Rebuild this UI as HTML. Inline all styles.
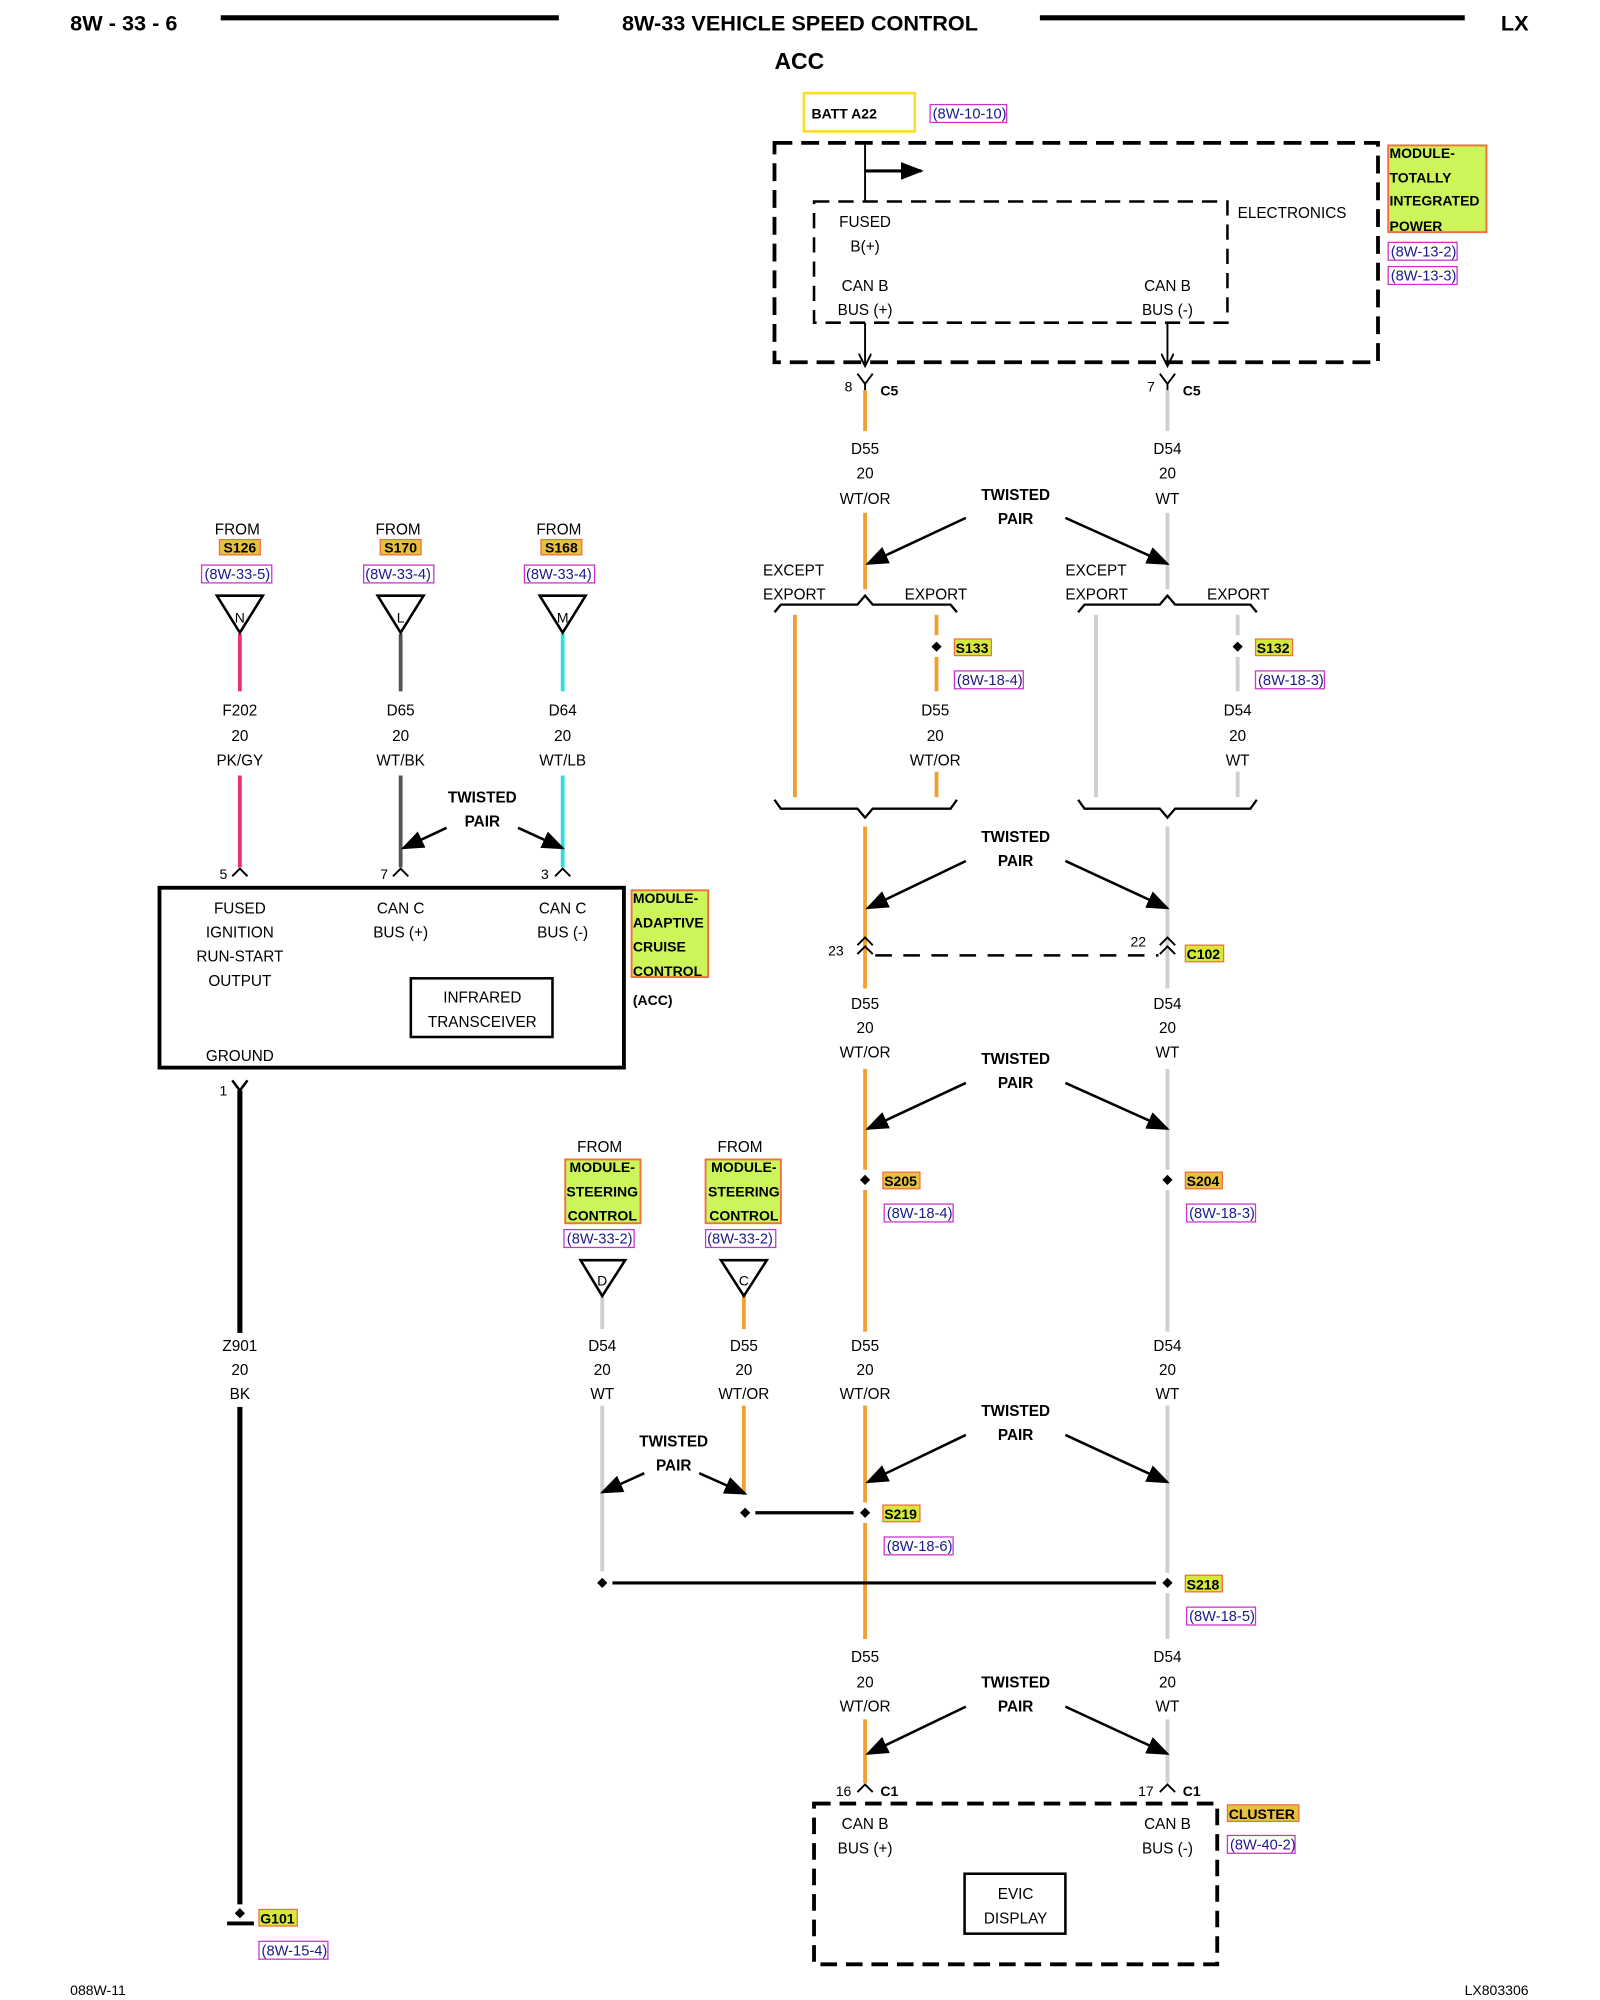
<!DOCTYPE html>
<html><head><meta charset="utf-8"><style>
html,body{margin:0;padding:0;background:#fff;}
svg{display:block;}
text{font-family:"Liberation Sans",Arial,sans-serif;font-size:12px;fill:#000;}
.c{text-anchor:middle;}
.b{font-weight:bold;}
.r{fill:#1a1a8a;font-size:11.5px;}
.k{stroke:#000;fill:none;}
</style></head><body>
<svg width="1600" height="2000" viewBox="0 0 1254 1568" preserveAspectRatio="none" xmlns="http://www.w3.org/2000/svg">
<defs>
<marker id="ah" markerWidth="18" markerHeight="14" refX="16" refY="7" orient="auto" markerUnits="userSpaceOnUse">
<path d="M0,0 L18,7 L0,14 z" fill="#000"/></marker>
<marker id="ad" markerWidth="12" markerHeight="10" refX="10" refY="5" orient="auto" markerUnits="userSpaceOnUse">
<path d="M0,0 L10,5 L0,10" fill="none" stroke="#000" stroke-width="1.5"/></marker>
</defs>

<!-- header -->
<text x="55" y="24" class="b" style="font-size:17px">8W - 33 - 6</text>
<line x1="173" y1="14" x2="438" y2="14" stroke="#000" stroke-width="4"/>
<text x="627" y="24" class="b c" style="font-size:17px">8W-33 VEHICLE SPEED CONTROL</text>
<line x1="815" y1="14" x2="1148" y2="14" stroke="#000" stroke-width="4"/>
<text x="1198" y="24" class="b" style="font-size:17px;text-anchor:end">LX</text>
<text x="607" y="54" class="b" style="font-size:18px">ACC</text>

<!-- BATT -->
<rect x="630" y="73" width="87" height="30" fill="none" stroke="#ffdd22" stroke-width="2"/>
<text x="636" y="93" class="b" style="font-size:11px">BATT A22</text>
<rect x="729" y="82" width="60" height="14" fill="none" stroke="#cc33cc"/>
<text x="731" y="93" class="r">(8W-10-10)</text>

<!-- TIPM -->
<rect x="607" y="112" width="473" height="172" fill="none" stroke="#000" stroke-width="3" stroke-dasharray="14,7"/>
<line x1="678" y1="112" x2="678" y2="158" stroke="#000" stroke-width="1.5"/>
<line x1="678" y1="134" x2="722" y2="134" stroke="#000" stroke-width="2.5" marker-end="url(#ah)"/>
<rect x="638" y="158" width="324" height="95" fill="none" stroke="#000" stroke-width="2" stroke-dasharray="12,7"/>
<text x="678" y="178" class="c">FUSED</text>
<text x="678" y="197" class="c">B(+)</text>
<text x="678" y="228" class="c">CAN B</text>
<text x="678" y="247" class="c">BUS (+)</text>
<text x="915" y="228" class="c">CAN B</text>
<text x="915" y="247" class="c">BUS (-)</text>
<text x="970" y="171">ELECTRONICS</text>
<line x1="678" y1="253" x2="678" y2="287" stroke="#000" stroke-width="1.5" marker-end="url(#ad)"/>
<line x1="915" y1="253" x2="915" y2="287" stroke="#000" stroke-width="1.5" marker-end="url(#ad)"/>
<rect x="1088" y="114" width="77" height="68" fill="#ccf55a" stroke="#f07040" stroke-width="1.5"/>
<text x="1089" y="124" class="b" style="font-size:11px">MODULE-</text>
<text x="1089" y="143" class="b" style="font-size:11px">TOTALLY</text>
<text x="1089" y="161" class="b" style="font-size:11px">INTEGRATED</text>
<text x="1089" y="181" class="b" style="font-size:11px">POWER</text>
<rect x="1088" y="190" width="54" height="14" fill="none" stroke="#cc33cc"/>
<text x="1090" y="201" class="r">(8W-13-2)</text>
<rect x="1088" y="209" width="54" height="14" fill="none" stroke="#cc33cc"/>
<text x="1090" y="220" class="r">(8W-13-3)</text>

<!-- C5 connectors -->
<path d="M672,293 L678,301 L684,293 M678,301 L678,306" class="k" stroke-width="1.5"/>
<path d="M909,293 L915,301 L921,293 M915,301 L915,306" class="k" stroke-width="1.5"/>
<text x="662" y="307" style="font-size:11px">8</text>
<text x="690" y="310" class="b" style="font-size:11px">C5</text>
<text x="899" y="307" style="font-size:11px">7</text>
<text x="927" y="310" class="b" style="font-size:11px">C5</text>

<!-- right wires -->
<g stroke-width="3" fill="none">
<g stroke="#f0a030">
<line x1="678" y1="306" x2="678" y2="338"/>
<line x1="678" y1="402" x2="678" y2="462"/>
<line x1="623" y1="482" x2="623" y2="625"/>
<line x1="734" y1="482" x2="734" y2="498"/>
<line x1="734" y1="515" x2="734" y2="542"/>
<line x1="734" y1="605" x2="734" y2="625"/>
<line x1="678" y1="648" x2="678" y2="775"/>
<line x1="678" y1="838" x2="678" y2="917"/>
<line x1="678" y1="933" x2="678" y2="1044"/>
<line x1="678" y1="1102" x2="678" y2="1178"/>
<line x1="678" y1="1194" x2="678" y2="1285"/>
<line x1="678" y1="1348" x2="678" y2="1398"/>
<line x1="583" y1="1015" x2="583" y2="1042"/>
<line x1="583" y1="1102" x2="583" y2="1172"/>
</g>
<g stroke="#cfcfcf">
<line x1="915" y1="306" x2="915" y2="338"/>
<line x1="915" y1="402" x2="915" y2="462"/>
<line x1="859" y1="482" x2="859" y2="625"/>
<line x1="970" y1="482" x2="970" y2="498"/>
<line x1="970" y1="515" x2="970" y2="542"/>
<line x1="970" y1="605" x2="970" y2="625"/>
<line x1="915" y1="648" x2="915" y2="775"/>
<line x1="915" y1="838" x2="915" y2="917"/>
<line x1="915" y1="933" x2="915" y2="1044"/>
<line x1="915" y1="1102" x2="915" y2="1233"/>
<line x1="915" y1="1249" x2="915" y2="1285"/>
<line x1="915" y1="1348" x2="915" y2="1398"/>
<line x1="472" y1="1015" x2="472" y2="1042"/>
<line x1="472" y1="1102" x2="472" y2="1232"/>
</g>
<line x1="188" y1="497" x2="188" y2="542" stroke="#ee3366"/>
<line x1="188" y1="608" x2="188" y2="680" stroke="#ee3366"/>
<line x1="314" y1="497" x2="314" y2="542" stroke="#555"/>
<line x1="314" y1="608" x2="314" y2="680" stroke="#555"/>
<line x1="441" y1="497" x2="441" y2="542" stroke="#33dddd"/>
<line x1="441" y1="608" x2="441" y2="680" stroke="#33dddd"/>
</g>

<!-- wire labels -->
<g class="c">
<text x="678" y="356" class="c">D55</text><text x="678" y="375" class="c">20</text><text x="678" y="395" class="c">WT/OR</text>
<text x="915" y="356" class="c">D54</text><text x="915" y="375" class="c">20</text><text x="915" y="395" class="c">WT</text>
<text x="733" y="561" class="c">D55</text><text x="733" y="581" class="c">20</text><text x="733" y="600" class="c">WT/OR</text>
<text x="970" y="561" class="c">D54</text><text x="970" y="581" class="c">20</text><text x="970" y="600" class="c">WT</text>
<text x="678" y="791" class="c">D55</text><text x="678" y="810" class="c">20</text><text x="678" y="829" class="c">WT/OR</text>
<text x="915" y="791" class="c">D54</text><text x="915" y="810" class="c">20</text><text x="915" y="829" class="c">WT</text>
<text x="678" y="1059" class="c">D55</text><text x="678" y="1078" class="c">20</text><text x="678" y="1097" class="c">WT/OR</text>
<text x="915" y="1059" class="c">D54</text><text x="915" y="1078" class="c">20</text><text x="915" y="1097" class="c">WT</text>
<text x="472" y="1059" class="c">D54</text><text x="472" y="1078" class="c">20</text><text x="472" y="1097" class="c">WT</text>
<text x="583" y="1059" class="c">D55</text><text x="583" y="1078" class="c">20</text><text x="583" y="1097" class="c">WT/OR</text>
<text x="678" y="1303" class="c">D55</text><text x="678" y="1323" class="c">20</text><text x="678" y="1342" class="c">WT/OR</text>
<text x="915" y="1303" class="c">D54</text><text x="915" y="1323" class="c">20</text><text x="915" y="1342" class="c">WT</text>
<text x="188" y="561" class="c">F202</text><text x="188" y="581" class="c">20</text><text x="188" y="600" class="c">PK/GY</text>
<text x="314" y="561" class="c">D65</text><text x="314" y="581" class="c">20</text><text x="314" y="600" class="c">WT/BK</text>
<text x="441" y="561" class="c">D64</text><text x="441" y="581" class="c">20</text><text x="441" y="600" class="c">WT/LB</text>
<text x="188" y="1059" class="c">Z901</text><text x="188" y="1078" class="c">20</text><text x="188" y="1097" class="c">BK</text>
</g>

<!-- twisted pairs -->
<g class="k" stroke-width="2">
<line x1="757" y1="406" x2="680" y2="442" marker-end="url(#ah)"/>
<line x1="835" y1="406" x2="915" y2="442" marker-end="url(#ah)"/>
<line x1="757" y1="675" x2="680" y2="712" marker-end="url(#ah)"/>
<line x1="835" y1="675" x2="915" y2="712" marker-end="url(#ah)"/>
<line x1="757" y1="849" x2="680" y2="885" marker-end="url(#ah)"/>
<line x1="835" y1="849" x2="915" y2="885" marker-end="url(#ah)"/>
<line x1="757" y1="1125" x2="680" y2="1162" marker-end="url(#ah)"/>
<line x1="835" y1="1125" x2="915" y2="1162" marker-end="url(#ah)"/>
<line x1="757" y1="1338" x2="680" y2="1375" marker-end="url(#ah)"/>
<line x1="835" y1="1338" x2="915" y2="1375" marker-end="url(#ah)"/>
<line x1="350" y1="649" x2="316" y2="665" marker-end="url(#ah)"/>
<line x1="406" y1="649" x2="441" y2="665" marker-end="url(#ah)"/>
<line x1="505" y1="1155" x2="472" y2="1170" marker-end="url(#ah)"/>
<line x1="548" y1="1155" x2="584" y2="1171" marker-end="url(#ah)"/>
</g>
<g class="b" style="font-size:11.5px">
<text x="796" y="392" class="b c">TWISTED</text><text x="796" y="411" class="b c">PAIR</text>
<text x="796" y="660" class="b c">TWISTED</text><text x="796" y="679" class="b c">PAIR</text>
<text x="796" y="834" class="b c">TWISTED</text><text x="796" y="853" class="b c">PAIR</text>
<text x="796" y="1110" class="b c">TWISTED</text><text x="796" y="1129" class="b c">PAIR</text>
<text x="796" y="1323" class="b c">TWISTED</text><text x="796" y="1342" class="b c">PAIR</text>
<text x="378" y="629" class="b c">TWISTED</text><text x="378" y="648" class="b c">PAIR</text>
<text x="528" y="1134" class="b c">TWISTED</text><text x="528" y="1153" class="b c">PAIR</text>
</g>

<!-- except export braces -->
<text x="598" y="451">EXCEPT</text><text x="598" y="470">EXPORT</text><text x="709" y="470">EXPORT</text>
<text x="835" y="451">EXCEPT</text><text x="835" y="470">EXPORT</text><text x="946" y="470">EXPORT</text>
<g class="k" stroke-width="1.8">
<path d="M607,480 L612,474 L672,474 L678,467 L684,474 L745,474 L750,480"/>
<path d="M607,627 L612,634 L672,634 L678,641 L684,634 L745,634 L750,627"/>
<path d="M845,480 L850,474 L909,474 L915,467 L921,474 L980,474 L985,480"/>
<path d="M845,627 L850,634 L909,634 L915,641 L921,634 L980,634 L985,627"/>
</g>

<!-- splices -->
<g fill="#000">
<path d="M734,503 l4,4 l-4,4 l-4,-4z"/>
<path d="M970,503 l4,4 l-4,4 l-4,-4z"/>
<path d="M678,921 l4,4 l-4,4 l-4,-4z"/>
<path d="M915,921 l4,4 l-4,4 l-4,-4z"/>
<path d="M678,1182 l4,4 l-4,4 l-4,-4z"/>
<path d="M584,1182 l4,4 l-4,4 l-4,-4z"/>
<path d="M915,1237 l4,4 l-4,4 l-4,-4z"/>
<path d="M472,1237 l4,4 l-4,4 l-4,-4z"/>
<path d="M188,1496 l4,4 l-4,4 l-4,-4z"/>
</g>
<line x1="592" y1="1186" x2="669" y2="1186" stroke="#000" stroke-width="2.5"/>
<line x1="480" y1="1241" x2="906" y2="1241" stroke="#000" stroke-width="2.5"/>

<!-- splice labels -->
<g style="font-size:11px">
<rect x="748" y="501" width="29" height="13" fill="#d6e83a" stroke="#f07040"/><text x="749" y="512" class="b" style="font-size:11px">S133</text>
<rect x="748" y="526" width="54" height="14" fill="none" stroke="#cc33cc"/><text x="750" y="537" class="r">(8W-18-4)</text>
<rect x="984" y="501" width="29" height="13" fill="#d6e83a" stroke="#f07040"/><text x="985" y="512" class="b" style="font-size:11px">S132</text>
<rect x="984" y="526" width="54" height="14" fill="none" stroke="#cc33cc"/><text x="986" y="537" class="r">(8W-18-3)</text>
<rect x="929" y="741" width="30" height="13" fill="#d6e83a" stroke="#f07040"/><text x="930" y="752" class="b" style="font-size:11px">C102</text>
<rect x="692" y="919" width="29" height="13" fill="#e8c040" stroke="#f07040"/><text x="693" y="930" class="b" style="font-size:11px">S205</text>
<rect x="693" y="944" width="54" height="14" fill="none" stroke="#cc33cc"/><text x="695" y="955" class="r">(8W-18-4)</text>
<rect x="929" y="919" width="29" height="13" fill="#e8c040" stroke="#f07040"/><text x="930" y="930" class="b" style="font-size:11px">S204</text>
<rect x="930" y="944" width="54" height="14" fill="none" stroke="#cc33cc"/><text x="932" y="955" class="r">(8W-18-3)</text>
<rect x="692" y="1180" width="29" height="13" fill="#d6e83a" stroke="#f07040"/><text x="693" y="1191" class="b" style="font-size:11px">S219</text>
<rect x="693" y="1205" width="54" height="14" fill="none" stroke="#cc33cc"/><text x="695" y="1216" class="r">(8W-18-6)</text>
<rect x="929" y="1235" width="29" height="13" fill="#d6e83a" stroke="#f07040"/><text x="930" y="1246" class="b" style="font-size:11px">S218</text>
<rect x="930" y="1260" width="54" height="14" fill="none" stroke="#cc33cc"/><text x="932" y="1271" class="r">(8W-18-5)</text>
<rect x="203" y="1497" width="30" height="13" fill="#d6e83a" stroke="#f07040"/><text x="204" y="1508" class="b" style="font-size:11px">G101</text>
<rect x="203" y="1522" width="54" height="14" fill="none" stroke="#cc33cc"/><text x="205" y="1533" class="r">(8W-15-4)</text>
</g>

<!-- C102 -->
<g class="k" stroke-width="1.5">
<path d="M672,741 L678,735 L684,741 M672,748 L678,742 L684,748"/>
<path d="M909,741 L915,735 L921,741 M909,748 L915,742 L921,748"/>
</g>
<line x1="686" y1="749" x2="908" y2="749" stroke="#000" stroke-width="2" stroke-dasharray="13,9"/>
<text x="649" y="749" style="font-size:11px">23</text>
<text x="886" y="742" style="font-size:11px">22</text>

<!-- C1 + cluster -->
<g class="k" stroke-width="1.5">
<path d="M672,1405 L678,1399 L684,1405"/>
<path d="M909,1405 L915,1399 L921,1405"/>
</g>
<text x="655" y="1408" style="font-size:11px">16</text>
<text x="690" y="1408" class="b" style="font-size:11px">C1</text>
<text x="892" y="1408" style="font-size:11px">17</text>
<text x="927" y="1408" class="b" style="font-size:11px">C1</text>
<rect x="638" y="1414" width="316" height="126" fill="none" stroke="#000" stroke-width="3" stroke-dasharray="13,7"/>
<text x="678" y="1434" class="c">CAN B</text><text x="678" y="1453" class="c">BUS (+)</text>
<text x="915" y="1434" class="c">CAN B</text><text x="915" y="1453" class="c">BUS (-)</text>
<rect x="756" y="1469" width="79" height="47" fill="none" stroke="#000" stroke-width="2"/>
<text x="796" y="1489" class="c">EVIC</text><text x="796" y="1508" class="c">DISPLAY</text>
<rect x="962" y="1415" width="56" height="13" fill="#e8c040" stroke="#f07040"/>
<text x="963" y="1426" class="b" style="font-size:11px">CLUSTER</text>
<rect x="962" y="1439" width="53" height="14" fill="none" stroke="#cc33cc"/><text x="964" y="1450" class="r">(8W-40-2)</text>

<!-- left FROM labels -->
<g>
<text x="186" y="419" class="c">FROM</text>
<rect x="172" y="423" width="32" height="12" fill="#e8c040" stroke="#f07040"/><text x="188" y="433" class="b c" style="font-size:11px">S126</text>
<rect x="158" y="443" width="55" height="14" fill="none" stroke="#cc33cc"/><text x="186" y="454" class="r c">(8W-33-5)</text>
<path d="M170,467 L206,467 L188,496 z" class="k" stroke-width="2"/><text x="188" y="488" class="c" style="font-size:11px">N</text>

<text x="312" y="419" class="c">FROM</text>
<rect x="298" y="423" width="32" height="12" fill="#e8c040" stroke="#f07040"/><text x="314" y="433" class="b c" style="font-size:11px">S170</text>
<rect x="285" y="443" width="55" height="14" fill="none" stroke="#cc33cc"/><text x="312" y="454" class="r c">(8W-33-4)</text>
<path d="M296,467 L332,467 L314,496 z" class="k" stroke-width="2"/><text x="314" y="488" class="c" style="font-size:11px">L</text>

<text x="438" y="419" class="c">FROM</text>
<rect x="424" y="423" width="32" height="12" fill="#e8c040" stroke="#f07040"/><text x="440" y="433" class="b c" style="font-size:11px">S168</text>
<rect x="411" y="443" width="55" height="14" fill="none" stroke="#cc33cc"/><text x="438" y="454" class="r c">(8W-33-4)</text>
<path d="M423,467 L459,467 L441,496 z" class="k" stroke-width="2"/><text x="441" y="488" class="c" style="font-size:11px">M</text>
</g>

<!-- ACC pins -->
<g class="k" stroke-width="1.5">
<path d="M182,687 L188,681 L194,687"/>
<path d="M308,687 L314,681 L320,687"/>
<path d="M435,687 L441,681 L447,687"/>
</g>
<text x="172" y="689" style="font-size:11px">5</text>
<text x="298" y="689" style="font-size:11px">7</text>
<text x="424" y="689" style="font-size:11px">3</text>

<!-- ACC box -->
<rect x="125" y="696" width="364" height="141" fill="none" stroke="#000" stroke-width="3"/>
<text x="188" y="716" class="c">FUSED</text><text x="188" y="735" class="c">IGNITION</text>
<text x="188" y="754" class="c">RUN-START</text><text x="188" y="773" class="c">OUTPUT</text>
<text x="314" y="716" class="c">CAN C</text><text x="314" y="735" class="c">BUS (+)</text>
<text x="441" y="716" class="c">CAN C</text><text x="441" y="735" class="c">BUS (-)</text>
<rect x="322" y="767" width="111" height="46" fill="none" stroke="#000" stroke-width="2"/>
<text x="378" y="786" class="c">INFRARED</text><text x="378" y="805" class="c">TRANSCEIVER</text>
<text x="188" y="832" class="c">GROUND</text>
<rect x="495" y="698" width="60" height="68" fill="#ccf55a" stroke="#f07040" stroke-width="1.5"/>
<text x="496" y="708" class="b" style="font-size:11px">MODULE-</text>
<text x="496" y="727" class="b" style="font-size:11px">ADAPTIVE</text>
<text x="496" y="746" class="b" style="font-size:11px">CRUISE</text>
<text x="496" y="765" class="b" style="font-size:11px">CONTROL</text>
<text x="496" y="788" class="b" style="font-size:11px">(ACC)</text>

<!-- ground wire -->
<path d="M182,847 L188,855 L194,847" class="k" stroke-width="2"/>
<text x="172" y="859" style="font-size:11px">1</text>
<line x1="188" y1="855" x2="188" y2="1045" stroke="#000" stroke-width="4"/>
<line x1="188" y1="1103" x2="188" y2="1493" stroke="#000" stroke-width="4"/>
<line x1="178" y1="1508" x2="199" y2="1508" stroke="#000" stroke-width="3"/>

<!-- steering control from -->
<text x="470" y="903" class="c">FROM</text>
<rect x="443" y="909" width="59" height="50" fill="#ccf55a" stroke="#f07040" stroke-width="1.5"/>
<text x="472" y="919" class="b c" style="font-size:11px">MODULE-</text>
<text x="472" y="938" class="b c" style="font-size:11px">STEERING</text>
<text x="472" y="957" class="b c" style="font-size:11px">CONTROL</text>
<rect x="442" y="964" width="55" height="14" fill="none" stroke="#cc33cc"/><text x="470" y="975" class="r c">(8W-33-2)</text>
<path d="M455,988 L490,988 L472,1016 z" class="k" stroke-width="2"/><text x="472" y="1008" class="c" style="font-size:11px">D</text>

<text x="580" y="903" class="c">FROM</text>
<rect x="553" y="909" width="59" height="50" fill="#ccf55a" stroke="#f07040" stroke-width="1.5"/>
<text x="583" y="919" class="b c" style="font-size:11px">MODULE-</text>
<text x="583" y="938" class="b c" style="font-size:11px">STEERING</text>
<text x="583" y="957" class="b c" style="font-size:11px">CONTROL</text>
<rect x="553" y="964" width="55" height="14" fill="none" stroke="#cc33cc"/><text x="580" y="975" class="r c">(8W-33-2)</text>
<path d="M565,988 L601,988 L583,1016 z" class="k" stroke-width="2"/><text x="583" y="1008" class="c" style="font-size:11px">C</text>

<!-- footer -->
<text x="55" y="1564" style="font-size:11px">088W-11</text>
<text x="1198" y="1564" style="font-size:11px;text-anchor:end">LX803306</text>
</svg>
</body></html>
